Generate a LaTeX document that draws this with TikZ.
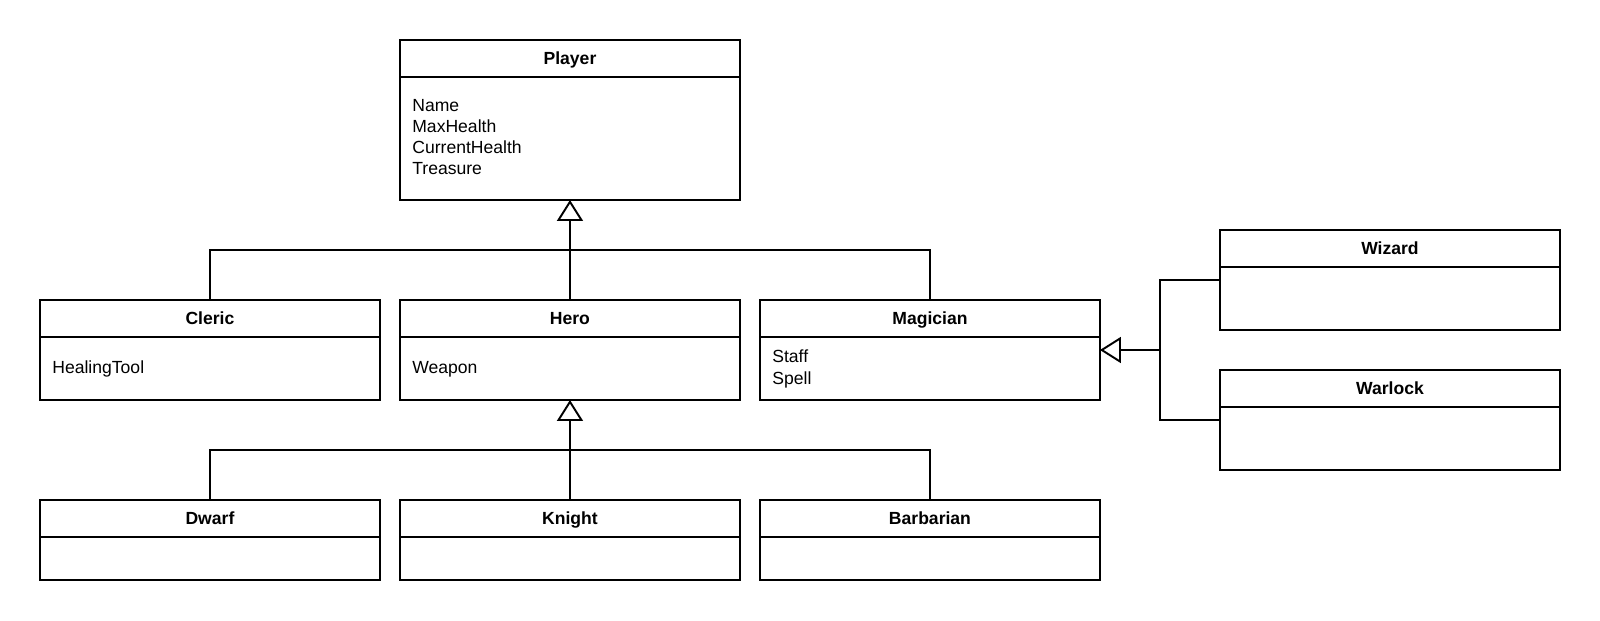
\documentclass[tikz,border=0pt]{standalone}
\usepackage{fontspec}
\setmainfont{Liberation Sans}
\usetikzlibrary{arrows.meta,positioning}

\tikzset{
  classbox/.style={rectangle,draw=black,line width=1.1pt,anchor=north west,inner sep=0pt,outer sep=0pt,minimum width=6.8cm},
  classhead/.style={rectangle,draw=black,line width=1.1pt,anchor=north,inner sep=0pt,outer sep=0pt,minimum width=6.8cm,minimum height=0.74cm,
    font=\fontsize{10}{12}\selectfont\bfseries,text height=7.2pt,text depth=0pt},
  attr/.style={anchor=base west,inner sep=0pt,font=\fontsize{10}{12}\selectfont},
  inh/.style={line width=1.1pt,-{Triangle[open,length=0.42cm,width=0.52cm]}},
  link/.style={line width=1.1pt}
}

\begin{document}
\begin{tikzpicture}[x=0.02cm,y=-0.02cm]
\path[use as bounding box,fill=white] (0,0) rectangle (1600,620);

\node[classbox,minimum height=3.2cm] (player) at (400,40) {};
  \node[classhead] (playerh) at (player.north) {Player};
  \node[attr] (pname) at (412,111) {Name};
  \node[attr] (pmax) at (412,132.3) {MaxHealth};
  \node[attr] (pcur) at (412,153.6) {CurrentHealth};
  \node[attr] (ptreas) at (412,174.9) {Treasure};

\node[classbox,minimum height=2cm] (cleric) at (40,300) {};
  \node[classhead] (clerich) at (cleric.north) {Cleric};
  \node[attr] (ctool) at (52,373) {HealingTool};
\node[classbox,minimum height=2cm] (hero) at (400,300) {};
  \node[classhead] (heroh) at (hero.north) {Hero};
  \node[attr] (hweapon) at (412,373) {Weapon};
\node[classbox,minimum height=2cm] (magician) at (760,300) {};
  \node[classhead] (magicianh) at (magician.north) {Magician};
  \node[attr] (mstaff) at (772,362) {Staff};
  \node[attr] (mspell) at (772,384) {Spell};

\node[classbox,minimum height=1.6cm] (dwarf) at (40,500) {};
  \node[classhead] (dwarfh) at (dwarf.north) {Dwarf};
\node[classbox,minimum height=1.6cm] (knight) at (400,500) {};
  \node[classhead] (knighth) at (knight.north) {Knight};
\node[classbox,minimum height=1.6cm] (barbarian) at (760,500) {};
  \node[classhead] (barbarianh) at (barbarian.north) {Barbarian};

\node[classbox,minimum height=2cm] (wizard) at (1220,230) {};
  \node[classhead] (wizardh) at (wizard.north) {Wizard};
\node[classbox,minimum height=2cm] (warlock) at (1220,370) {};
  \node[classhead] (warlockh) at (warlock.north) {Warlock};

\coordinate (bus1) at (570,250);
\coordinate (bus2) at (570,450);
\coordinate (bus3) at (1160,350);

\draw[link] (cleric.north) |- (bus1) -| (magician.north);
  \draw[inh] (hero.north) to (player.south);
\draw[link] (dwarf.north) |- (bus2) -| (barbarian.north);
  \draw[inh] (knight.north) to (hero.south);
\draw[link] (wizard.west) -| (bus3) |- (warlock.west);
  \draw[inh] (bus3) to (magician.east);
\end{tikzpicture}
\end{document}
